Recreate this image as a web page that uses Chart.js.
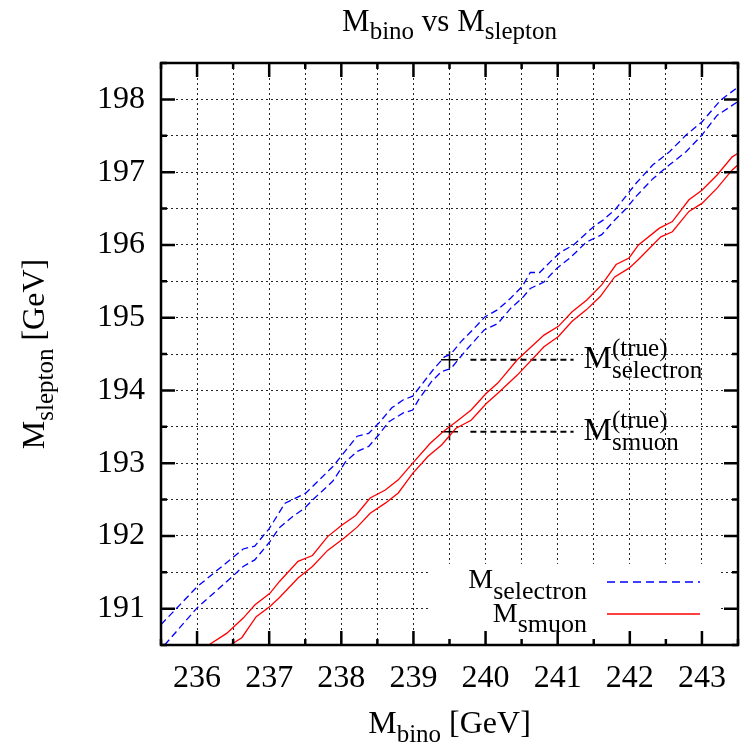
<!DOCTYPE html>
<html lang="en">
<head>
<meta charset="UTF-8">
<title>M_bino vs M_slepton</title>
<style>
    html, body {
        margin: 0;
        padding: 0;
        background: #fff;
        overflow: hidden;
    }
    .wrap {
        width: 741px;
        height: 753px;
        overflow: hidden;
    }
    canvas {
        display: block;
    }
</style>
</head>
<body>
<!-- the plot frame runs a couple of pixels past the right edge, as in the original -->
<div class="wrap"><canvas id="chart" width="748" height="753" style="width:748px;height:753px"></canvas></div>

<script src="https://cdn.jsdelivr.net/npm/chart.js"></script>
<script>
    // selectron band (blue dashed), upper and lower edge
    const selUpX = [235.5, 236.0, 236.48, 236.64, 236.8, 237.0, 237.22, 237.35, 237.51, 237.88, 238.01, 238.22, 238.38, 238.52, 238.7, 238.86, 238.99, 239.27, 239.43, 239.52, 239.66, 239.82, 239.99, 240.17, 240.35, 240.51, 240.62, 240.75, 240.9, 241.04, 241.22, 241.52, 241.63, 241.81, 242.09, 242.32, 242.55, 242.78, 243.0, 243.26, 243.5];
    const selUpY = [190.78, 191.30, 191.69, 191.82, 191.86, 192.10, 192.45, 192.51, 192.59, 192.95, 193.11, 193.37, 193.41, 193.55, 193.76, 193.87, 193.92, 194.28, 194.46, 194.50, 194.67, 194.83, 195.01, 195.11, 195.27, 195.43, 195.62, 195.62, 195.77, 195.90, 196.00, 196.27, 196.34, 196.50, 196.85, 197.10, 197.28, 197.51, 197.69, 197.99, 198.17];
    const selLoX = [235.55, 236.0, 236.5, 236.64, 236.8, 237.01, 237.14, 237.33, 237.49, 237.63, 237.88, 238.06, 238.22, 238.38, 238.52, 238.66, 238.86, 238.99, 239.07, 239.25, 239.39, 239.52, 239.71, 239.98, 240.17, 240.35, 240.51, 240.62, 240.81, 240.99, 241.17, 241.4, 241.61, 241.77, 241.95, 242.09, 242.32, 242.55, 242.78, 243.0, 243.21, 243.5];
    const selLoY = [190.5, 191.01, 191.45, 191.58, 191.67, 191.92, 192.11, 192.27, 192.38, 192.52, 192.75, 193.02, 193.16, 193.23, 193.39, 193.57, 193.69, 193.73, 193.87, 194.12, 194.26, 194.30, 194.53, 194.83, 194.92, 195.13, 195.27, 195.40, 195.49, 195.68, 195.82, 196.04, 196.14, 196.32, 196.50, 196.67, 196.91, 197.10, 197.28, 197.51, 197.78, 197.97];

    // smuon band (red solid), upper and lower edge
    const smuUpX = [236.16, 236.41, 236.64, 236.8, 237.01, 237.14, 237.4, 237.6, 237.81, 238.01, 238.2, 238.4, 238.61, 238.79, 238.99, 239.23, 239.41, 239.62, 239.8, 240.01, 240.17, 240.44, 240.81, 241.01, 241.2, 241.4, 241.61, 241.81, 241.99, 242.12, 242.41, 242.59, 242.82, 243.0, 243.21, 243.42, 243.5];
    const smuUpY = [190.5, 190.66, 190.87, 191.05, 191.21, 191.37, 191.65, 191.73, 191.99, 192.15, 192.28, 192.52, 192.63, 192.77, 193.0, 193.27, 193.43, 193.59, 193.73, 193.96, 194.10, 194.42, 194.76, 194.88, 195.08, 195.24, 195.45, 195.73, 195.82, 196.0, 196.23, 196.32, 196.62, 196.75, 196.96, 197.21, 197.26];
    const smuLoX = [236.46, 236.62, 236.82, 237.01, 237.14, 237.4, 237.6, 237.81, 238.04, 238.22, 238.4, 238.61, 238.79, 238.99, 239.2, 239.39, 239.59, 239.8, 240.01, 240.17, 240.44, 240.81, 241.01, 241.2, 241.4, 241.59, 241.79, 241.99, 242.12, 242.43, 242.59, 242.82, 243.0, 243.21, 243.42, 243.5];
    const smuLoY = [190.5, 190.6, 190.89, 191.03, 191.15, 191.42, 191.58, 191.8, 191.97, 192.12, 192.31, 192.45, 192.59, 192.86, 193.09, 193.25, 193.48, 193.59, 193.82, 193.96, 194.21, 194.6, 194.74, 194.95, 195.11, 195.29, 195.56, 195.68, 195.8, 196.11, 196.18, 196.46, 196.57, 196.78, 197.03, 197.1];

    // true masses: marker at M_bino = 239.5, dashed guide to the label
    const trueBino = 239.5;
    const trueSelectron = 194.42;
    const trueSmuon = 193.43;
    const guideX = [239.79, 241.22];

    const xRange = [235.5, 243.5];
    const yRange = [190.5, 198.5];
    const tickStep = 0.5;

    const FONT = '"Liberation Serif", "Times New Roman", serif';

    function pts(xs, ys) {
        return xs.map((x, i) => ({ x: x, y: ys[i] }));
    }

    // draws a run of [text, size, dy] pieces (sub/superscripts)
    function richWidth(ctx, parts) {
        let w = 0;
        parts.forEach(p => {
            ctx.font = p[1] + 'px ' + FONT;
            w += ctx.measureText(p[0]).width;
        });
        return w;
    }
    function drawRich(ctx, x, y, parts, align) {
        const w = richWidth(ctx, parts);
        let cx = align === 'center' ? x - w / 2 : (align === 'right' ? x - w : x);
        ctx.textAlign = 'left';
        ctx.textBaseline = 'alphabetic';
        parts.forEach(p => {
            ctx.font = p[1] + 'px ' + FONT;
            ctx.fillText(p[0], cx, y + p[2]);
            cx += ctx.measureText(p[0]).width;
        });
    }
    // M with superscript (true) and subscript stacked
    function drawTrueLabel(ctx, x, y, sub) {
        ctx.textAlign = 'left';
        ctx.textBaseline = 'alphabetic';
        ctx.font = '32px ' + FONT;
        ctx.fillText('M', x, y);
        const mx = x + ctx.measureText('M').width;
        ctx.font = '25px ' + FONT;
        ctx.fillText('(true)', mx, y - 12);
        ctx.fillText(sub, mx, y + 10);
    }

    const gnuplotFrame = {
        id: 'gnuplotFrame',
        beforeDatasetsDraw(chart) {
            // key box hides the grid behind it
            const ctx = chart.ctx, ca = chart.chartArea;
            ctx.save();
            ctx.fillStyle = '#fff';
            ctx.fillRect(ca.right - 310, ca.bottom - 81, 290, 81);
            ctx.restore();
        },
        afterDatasetsDraw(chart) {
            const ctx = chart.ctx, ca = chart.chartArea;
            const xs = chart.scales.x, ys = chart.scales.y;
            ctx.save();

            // border
            ctx.strokeStyle = '#000';
            ctx.lineWidth = 2.5;
            ctx.strokeRect(ca.left, ca.top, ca.right - ca.left, ca.bottom - ca.top);

            // inward ticks on all four sides
            ctx.beginPath();
            for (let v = xRange[0]; v <= xRange[1] + 1e-9; v += tickStep) {
                const major = Math.abs(v - Math.round(v)) < 1e-6;
                const len = major ? 14 : 6;
                const px = xs.getPixelForValue(v);
                ctx.moveTo(px, ca.bottom); ctx.lineTo(px, ca.bottom - len);
                ctx.moveTo(px, ca.top); ctx.lineTo(px, ca.top + len);
            }
            for (let v = yRange[0]; v <= yRange[1] + 1e-9; v += tickStep) {
                const major = Math.abs(v - Math.round(v)) < 1e-6;
                const len = major ? 14 : 6;
                const py = ys.getPixelForValue(v);
                ctx.moveTo(ca.left, py); ctx.lineTo(ca.left + len, py);
                ctx.moveTo(ca.right, py); ctx.lineTo(ca.right - len, py);
            }
            ctx.stroke();

            // key
            ctx.fillStyle = '#000';
            const kx = ca.right - 151;
            drawRich(ctx, kx, ca.bottom - 57, [['M', 28, 0], ['selectron', 26, 11]], 'right');
            drawRich(ctx, kx, ca.bottom - 23, [['M', 28, 0], ['smuon', 26, 10]], 'right');
            ctx.lineWidth = 1.3;
            ctx.strokeStyle = '#0000ff';
            ctx.setLineDash([8, 5]);
            ctx.beginPath();
            ctx.moveTo(ca.right - 131, ca.bottom - 63);
            ctx.lineTo(ca.right - 38, ca.bottom - 63);
            ctx.stroke();
            ctx.setLineDash([]);
            ctx.strokeStyle = '#ff0000';
            ctx.beginPath();
            ctx.moveTo(ca.right - 131, ca.bottom - 31);
            ctx.lineTo(ca.right - 38, ca.bottom - 31);
            ctx.stroke();

            // true mass labels
            const lx = xs.getPixelForValue(guideX[1]) + 10;
            drawTrueLabel(ctx, lx, ys.getPixelForValue(trueSelectron) + 8, 'selectron');
            drawTrueLabel(ctx, lx, ys.getPixelForValue(trueSmuon) + 8, 'smuon');

            // titles
            const cx = (ca.left + ca.right) / 2;
            drawRich(ctx, cx, 31, [['M', 31, 0], ['bino', 25, 8], [' vs M', 31, 0], ['slepton', 25, 8]], 'center');
            drawRich(ctx, cx, 733, [['M', 32, 0], ['bino', 25, 9], [' [GeV]', 32, 0]], 'center');
            ctx.translate(44, (ca.top + ca.bottom) / 2);
            ctx.rotate(-Math.PI / 2);
            drawRich(ctx, 0, 0, [['M', 32, 0], ['slepton', 25, 9], [' [GeV]', 32, 0]], 'center');
            ctx.restore();
        }
    };

    const ticksCb = v => (Math.abs(v - Math.round(v)) < 1e-6 ? String(Math.round(v)) : '');

    new Chart(document.getElementById('chart').getContext('2d'), {
        type: 'scatter',
        data: {
            datasets: [
                {
                    label: 'M_selectron',
                    data: pts(selUpX, selUpY),
                    showLine: true,
                    borderColor: '#0000ff',
                    borderWidth: 1.3,
                    borderDash: [7, 4],
                    pointRadius: 0,
                    tension: 0
                },
                {
                    label: 'M_selectron lower',
                    data: pts(selLoX, selLoY),
                    showLine: true,
                    borderColor: '#0000ff',
                    borderWidth: 1.3,
                    borderDash: [7, 4],
                    pointRadius: 0,
                    tension: 0
                },
                {
                    label: 'M_smuon',
                    data: pts(smuUpX, smuUpY),
                    showLine: true,
                    borderColor: '#ff0000',
                    borderWidth: 1.3,
                    pointRadius: 0,
                    tension: 0
                },
                {
                    label: 'M_smuon lower',
                    data: pts(smuLoX, smuLoY),
                    showLine: true,
                    borderColor: '#ff0000',
                    borderWidth: 1.3,
                    pointRadius: 0,
                    tension: 0
                },
                {
                    label: 'selectron guide',
                    data: pts(guideX, [trueSelectron, trueSelectron]),
                    showLine: true,
                    borderColor: '#000',
                    borderWidth: 2,
                    borderDash: [6, 4],
                    pointRadius: 0
                },
                {
                    label: 'smuon guide',
                    data: pts(guideX, [trueSmuon, trueSmuon]),
                    showLine: true,
                    borderColor: '#000',
                    borderWidth: 2,
                    borderDash: [6, 4],
                    pointRadius: 0
                },
                {
                    label: 'true masses',
                    data: pts([trueBino, trueBino], [trueSelectron, trueSmuon]),
                    showLine: false,
                    pointStyle: 'cross',
                    pointRadius: 8.5,
                    borderColor: '#000',
                    borderWidth: 1.5
                }
            ]
        },
        options: {
            responsive: false,
            animation: false,
            events: [],
            layout: { padding: { top: 63, right: 1, left: 0, bottom: 0 } },
            plugins: {
                legend: { display: false },
                title: { display: false },
                tooltip: { enabled: false }
            },
            scales: {
                x: {
                    type: 'linear',
                    min: xRange[0],
                    max: xRange[1],
                    afterFit: s => { s.height = 108; s.paddingLeft = 0; s.paddingRight = 0; },
                    ticks: {
                        stepSize: tickStep,
                        autoSkip: false,
                        maxRotation: 0,
                        padding: 14,
                        color: '#000',
                        font: { family: FONT, size: 32 },
                        callback: ticksCb
                    },
                    grid: { color: 'rgba(0,0,0,0.85)', lineWidth: 1, drawTicks: false },
                    border: { display: false, dash: [2, 3] }
                },
                y: {
                    type: 'linear',
                    min: yRange[0],
                    max: yRange[1],
                    afterFit: s => { s.width = 161; },
                    ticks: {
                        stepSize: tickStep,
                        autoSkip: false,
                        padding: 16,
                        color: '#000',
                        font: { family: FONT, size: 32 },
                        callback: ticksCb
                    },
                    grid: { color: 'rgba(0,0,0,0.85)', lineWidth: 1, drawTicks: false },
                    border: { display: false, dash: [2, 3] }
                }
            }
        },
        plugins: [gnuplotFrame]
    });
</script>
</body>
</html>
